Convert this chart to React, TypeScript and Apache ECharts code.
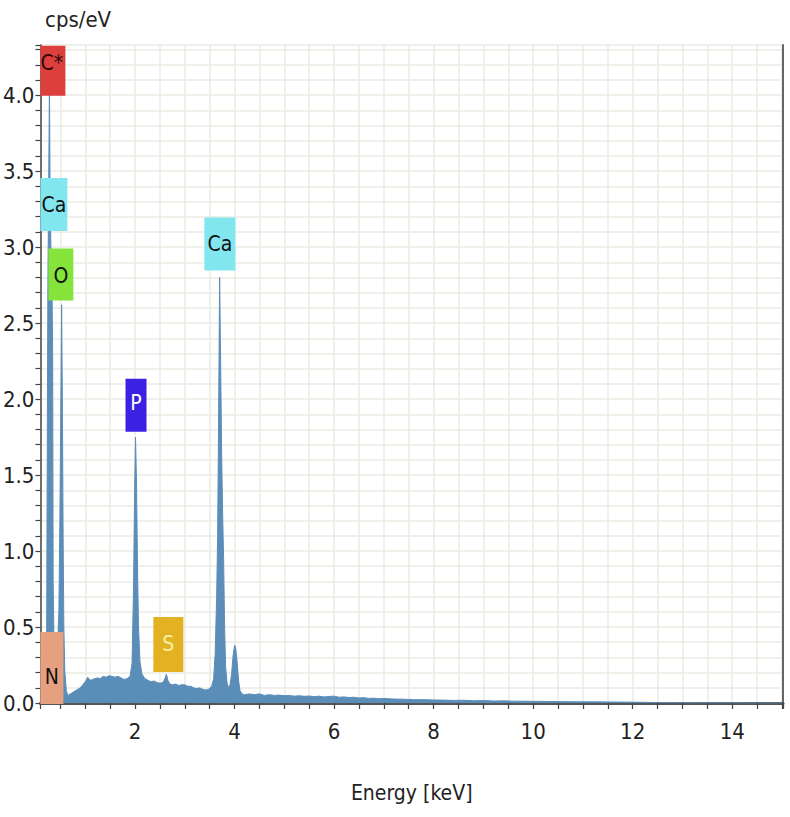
import React, { useEffect, useRef } from 'react';
import * as echarts from 'echarts';

// ---- Data ----
const energy = [
  0.10, 0.14, 0.18, 0.20, 0.225, 0.24, 0.25, 0.265, 0.28, 0.295, 0.31, 0.33, 0.345, 0.355, 0.37, 0.40,
  0.44, 0.47, 0.49, 0.51, 0.525, 0.54, 0.555, 0.57, 0.59, 0.62, 0.65, 0.70, 0.75, 0.80, 0.85, 0.90, 0.95,
  1.00, 1.05, 1.08, 1.12, 1.18, 1.24, 1.30, 1.36, 1.42, 1.48, 1.54, 1.60, 1.66, 1.72, 1.78, 1.84,
  1.90, 1.94, 1.97, 1.99, 2.01, 2.03, 2.05, 2.07, 2.10, 2.14, 2.20, 2.26, 2.32, 2.38, 2.44, 2.50,
  2.56, 2.60, 2.63, 2.66, 2.70, 2.76, 2.82, 2.88, 2.94, 3.00, 3.06, 3.12, 3.18, 3.24, 3.30, 3.36,
  3.42, 3.48, 3.54, 3.58, 3.61, 3.64, 3.66, 3.68, 3.70, 3.72, 3.74, 3.76, 3.78, 3.80, 3.82, 3.85,
  3.88, 3.91, 3.94, 3.97, 4.00, 4.02, 4.05, 4.08, 4.11, 4.15, 4.20, 4.30, 4.40, 4.50, 4.60, 4.70,
  4.80, 4.90, 5.00, 5.10, 5.20, 5.30, 5.40, 5.50, 5.60, 5.70, 5.80, 5.90, 6.00, 6.10, 6.20, 6.30,
  6.40, 6.50, 6.60, 6.70, 6.80, 6.90, 7.00, 7.20, 7.40, 7.60, 7.80, 8.00, 8.20, 8.40, 8.60, 8.80,
  9.00, 9.20, 9.40, 9.60, 9.80, 10.0, 10.3, 10.6, 10.9, 11.2, 11.5, 11.8, 12.1, 12.5, 13.0, 13.5,
  14.0, 14.5, 15.0,
];
const counts = [
  0.01, 0.03, 0.06, 0.10, 0.5, 2.0, 2.8, 3.4, 4.08, 3.3, 3.0, 2.8, 2.3, 0.8, 0.45, 0.35,
  0.35, 0.6, 1.2, 2.0, 2.62, 2.0, 1.1, 0.5, 0.2, 0.08, 0.05, 0.06, 0.07, 0.08, 0.09, 0.10, 0.12,
  0.14, 0.17, 0.155, 0.15, 0.16, 0.165, 0.16, 0.175, 0.17, 0.18, 0.175, 0.17, 0.175, 0.165, 0.155, 0.16,
  0.175, 0.26, 0.75, 1.35, 1.75, 1.45, 0.9, 0.5, 0.27, 0.19, 0.16, 0.15, 0.14, 0.145, 0.135, 0.13,
  0.135, 0.16, 0.19, 0.15, 0.125, 0.12, 0.125, 0.115, 0.12, 0.12, 0.11, 0.11, 0.10, 0.095, 0.10, 0.09,
  0.085, 0.09, 0.11, 0.16, 0.32, 0.7, 1.1, 1.9, 2.8, 2.25, 1.65, 1.25, 0.95, 0.5, 0.24, 0.13,
  0.10, 0.12, 0.19, 0.31, 0.38, 0.37, 0.28, 0.15, 0.08, 0.06, 0.055, 0.06, 0.055, 0.06, 0.05, 0.055,
  0.05, 0.052, 0.048, 0.05, 0.045, 0.048, 0.044, 0.046, 0.042, 0.045, 0.04, 0.043, 0.045, 0.038, 0.04, 0.036,
  0.038, 0.033, 0.035, 0.03, 0.032, 0.028, 0.03, 0.026, 0.025, 0.022, 0.022, 0.02, 0.019, 0.017, 0.018, 0.015,
  0.016, 0.013, 0.014, 0.012, 0.012, 0.011, 0.010, 0.009, 0.008, 0.008, 0.007, 0.006, 0.005, 0.003, 0.002, 0.001,
  0.001, 0, 0,
];

// Element markers (label text, energy keV, level cps/eV of the box centre)
const peakNames = ['C*', 'Ca', 'O', 'N', 'P', 'S', 'Ca'];
const peakEnergy = [0.35, 0.37, 0.51, 0.33, 2.02, 2.67, 3.705];
const peakLevel = [4.16, 3.28, 2.82, 0.23, 1.96, 0.385, 3.02];

// Tick labels
const xTickLabels = ['2', '4', '6', '8', '10', '12', '14'];
const yTickLabels = ['0.0', '0.5', '1.0', '1.5', '2.0', '2.5', '3.0', '3.5', '4.0'];

// ---- Styles ----
const FONT = "'DejaVu Sans Condensed', 'Liberation Sans', sans-serif";
const peakBoxColor = ['#dc3f3c', '#82e6ef', '#85e43c', '#e6a07f', '#3b22e2', '#e2b222', '#82e6ef'];
const peakTextColor = ['#2a0808', '#111111', '#111111', '#111111', '#ffffff', '#f8f0a0', '#111111'];
const peakBoxSize = [[25, 50], [27, 53], [25, 52], [23, 72], [21, 53], [30, 55], [31, 53]];
const peakTextOffset = [[-1, -8], [0, 0], [0, 2], [0, 9], [0, -2], [0, 0], [0, 0]];
const SPEC = '#5b8db9';
const GRID = '#ebebe4';

export default function App() {
  const ref = useRef<HTMLDivElement>(null);
  useEffect(() => {
    const chart = echarts.init(ref.current!, null, { renderer: 'svg' });
    const xMin = 0.1;
    const xMax = 15.02;
    chart.setOption({
      animation: false,
      backgroundColor: '#ffffff',
      title: {
        text: 'cps/eV',
        left: 40,
        top: 3,
        textStyle: { fontFamily: FONT, fontSize: 22, fontWeight: 'normal', color: '#222' },
      },
      grid: { left: 40, right: 7, top: 45, bottom: 114, containLabel: false },
      xAxis: [
        {
          type: 'value',
          min: xMin,
          max: xMax,
          splitNumber: 30,
          name: 'Energy [keV]',
          nameLocation: 'middle',
          nameGap: 79,
          nameTextStyle: { fontFamily: FONT, fontSize: 21, color: '#222' },
          axisLine: { show: true, lineStyle: { color: '#444', width: 1.5 } },
          axisTick: { show: true, length: 6, lineStyle: { color: '#444', width: 1.2 } },
          axisLabel: {
            margin: 17,
            fontFamily: FONT,
            fontSize: 22,
            color: '#222',
            formatter: (v: number) => {
              const r = Math.round(v * 100) / 100;
              const s = String(r);
              return xTickLabels.includes(s) ? s : '';
            },
          },
          splitLine: { show: true, lineStyle: { color: GRID, width: 1.5 } },
        },
        {
          type: 'value',
          position: 'top',
          min: xMin,
          max: xMax,
          axisLine: { show: true, lineStyle: { color: '#555', width: 3 } },
          axisTick: { show: false },
          axisLabel: { show: false },
          splitLine: { show: false },
        },
      ],
      yAxis: [
        {
          type: 'value',
          min: 0,
          max: 4.33,
          interval: 0.1,
          axisLine: { show: true, lineStyle: { color: '#444', width: 1.5 } },
          axisTick: { show: true, length: 5, lineStyle: { color: '#444', width: 1.2 } },
          axisLabel: {
            margin: 6,
            fontFamily: FONT,
            fontSize: 22,
            color: '#222',
            formatter: (v: number) => {
              const r = Math.round(v * 10);
              const s = (r / 10).toFixed(1);
              return r % 5 === 0 && yTickLabels.includes(s) ? s : '';
            },
          },
          splitLine: { show: true, lineStyle: { color: GRID, width: 1.5 } },
        },
        {
          type: 'value',
          position: 'right',
          min: 0,
          max: 4.33,
          axisLine: { show: true, lineStyle: { color: '#666', width: 2 } },
          axisTick: { show: false },
          axisLabel: { show: false },
          splitLine: { show: false },
        },
      ],
      series: [
        {
          type: 'line',
          xAxisIndex: 0,
          yAxisIndex: 0,
          data: energy.map((e, i) => [e, counts[i]]),
          showSymbol: false,
          symbol: 'none',
          lineStyle: { color: SPEC, width: 1 },
          areaStyle: { color: SPEC, opacity: 1 },
          z: 2,
        },
        {
          type: 'scatter',
          xAxisIndex: 0,
          yAxisIndex: 0,
          clip: false,
          z: 5,
          data: peakNames.map((n, i) => ({
            name: n,
            value: [peakEnergy[i], peakLevel[i]],
            symbol: 'rect',
            symbolSize: peakBoxSize[i],
            itemStyle: { color: peakBoxColor[i], opacity: 1 },
            label: {
              show: true,
              position: 'inside',
              formatter: n,
              offset: peakTextOffset[i],
              color: peakTextColor[i],
              fontFamily: FONT,
              fontSize: 21,
            },
          })),
          emphasis: { disabled: true },
        },
      ],
    });
    return () => chart.dispose();
  }, []);
  return <div ref={ref} style={{ position: 'fixed', left: 0, top: 0, width: 790, height: 817 }} />;
}
